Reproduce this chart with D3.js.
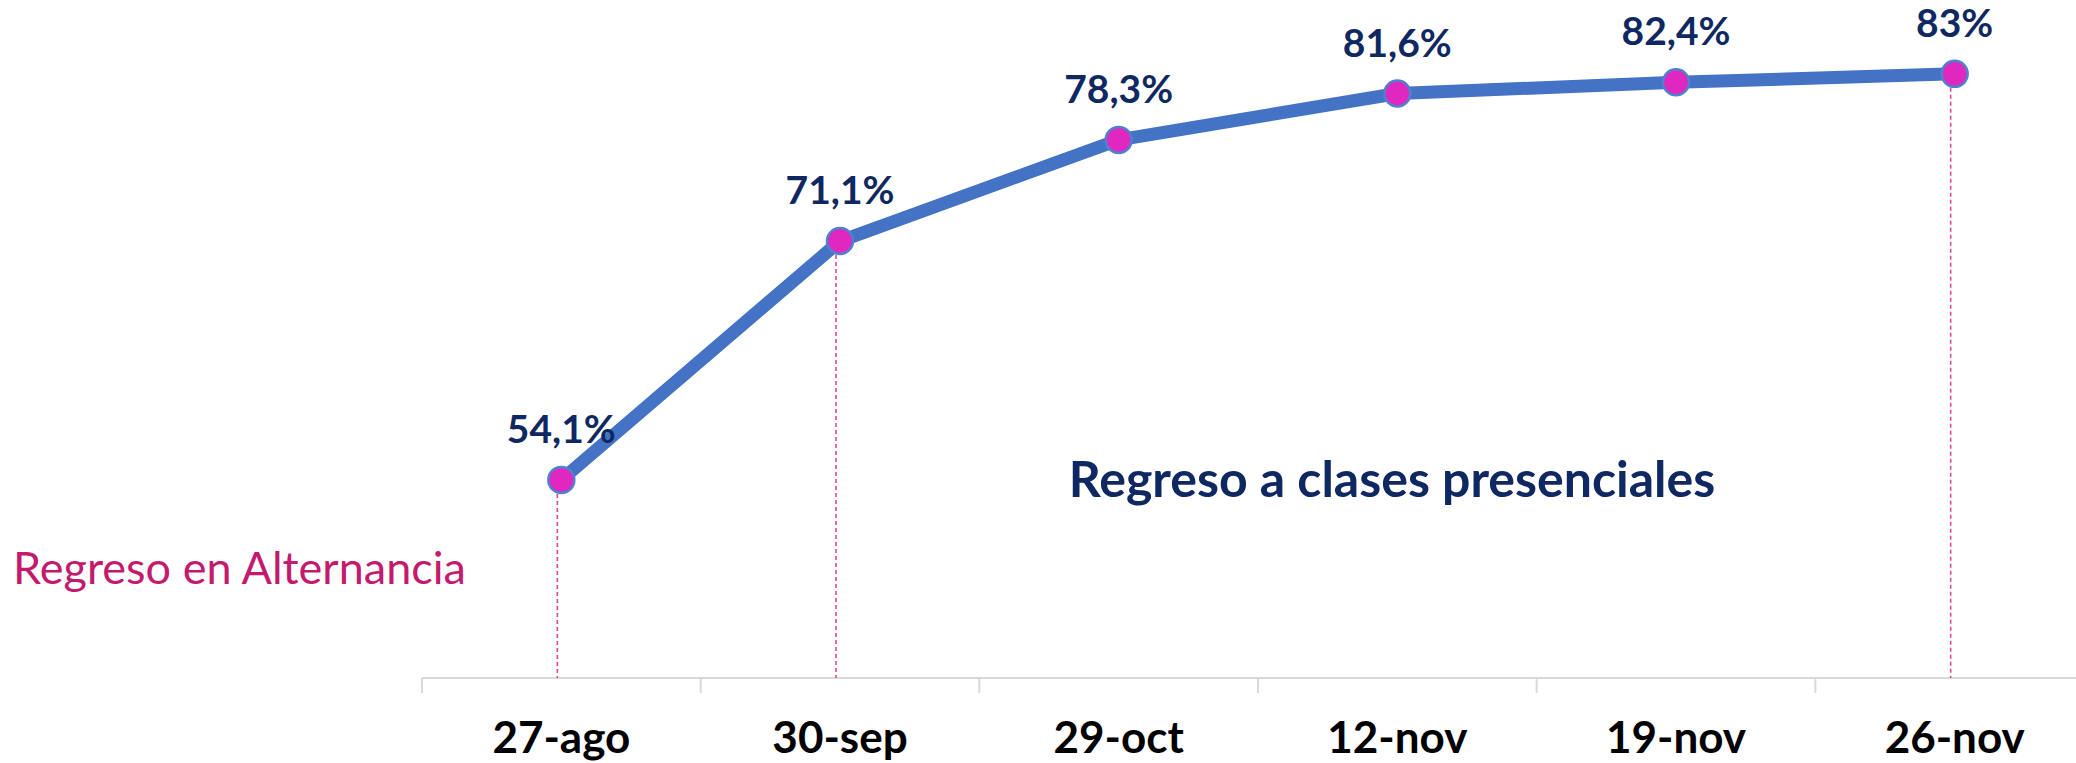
<!DOCTYPE html>
<html>
<head>
<meta charset="utf-8">
<script src="https://cdn.jsdelivr.net/npm/d3@7"></script>
<style>
  html, body { margin: 0; padding: 0; background: #fff; }
  svg { display: block; font-family: "Lato", "Open Sans", sans-serif; }
</style>
</head>
<body>
<div id="chart"></div>
<script>
// data
var dates = ["27-ago", "30-sep", "29-oct", "12-nov", "19-nov", "26-nov"];
var values = [54.1, 71.1, 78.3, 81.6, 82.4, 83];
var valueLabels = ["54,1%", "71,1%", "78,3%", "81,6%", "82,4%", "83%"];
var dropDates = ["27-ago", "30-sep", "26-nov"];
var yDomain = [40, 90];

var width = 2076, height = 763;
var axisY = 678;

var svg = d3.select("#chart").append("svg")
    .attr("width", width)
    .attr("height", height);

// scales
var x = d3.scaleBand().domain(dates).range([422, 2094]).padding(0);
var y = d3.scaleLinear().domain(yDomain).range([axisY, axisY - 50 * 14.05]);

var cx = function(d) { return x(d) + x.bandwidth() / 2; };

var data = dates.map(function(d, i) {
  return { date: d, value: values[i], label: valueLabels[i] };
});

// x axis: line + ticks at band edges
var axis = svg.append("g").attr("transform", "translate(0," + axisY + ")");
axis.append("line")
    .attr("x1", x.range()[0]).attr("x2", x.range()[1])
    .attr("y1", 0).attr("y2", 0)
    .attr("stroke", "#d9d9d9").attr("stroke-width", 2);
axis.selectAll(".tk")
    .data(dates.concat(["end"]))
    .enter().append("line")
    .attr("class", "tk")
    .attr("x1", function(d) { return d === "end" ? x.range()[1] : x(d); })
    .attr("x2", function(d) { return d === "end" ? x.range()[1] : x(d); })
    .attr("y1", 0).attr("y2", 15)
    .attr("stroke", "#d9d9d9").attr("stroke-width", 2);

var labels = svg.append("g")
    .attr("transform", "translate(0," + axisY + ")")
    .call(d3.axisBottom(x).tickSize(0).tickPadding(0));
labels.select(".domain").remove();
labels.selectAll("text")
    .attr("y", 75).attr("dy", 0)
    .style("font-family", "Lato, 'Open Sans', sans-serif")
    .style("font-size", "44px")
    .style("font-weight", "bold")
    .attr("fill", "#000");

// pink dashed drop lines
svg.selectAll(".drop")
    .data(data.filter(function(d) { return dropDates.indexOf(d.date) >= 0; }))
    .enter().append("line")
    .attr("class", "drop")
    .attr("x1", function(d) { return cx(d.date) - 4; })
    .attr("x2", function(d) { return cx(d.date) - 4; })
    .attr("y1", function(d) { return y(d.value) + 14; })
    .attr("y2", axisY)
    .attr("stroke", "#d94a94")
    .attr("stroke-width", 1.6)
    .attr("stroke-dasharray", "4,3");

// the line
var line = d3.line()
    .x(function(d) { return cx(d.date); })
    .y(function(d) { return y(d.value); });

svg.append("path")
    .datum(data)
    .attr("d", line)
    .attr("fill", "none")
    .attr("stroke", "#4472c4")
    .attr("stroke-width", 13)
    .attr("stroke-linejoin", "round");

// markers
svg.selectAll(".dot")
    .data(data)
    .enter().append("circle")
    .attr("class", "dot")
    .attr("cx", function(d) { return cx(d.date); })
    .attr("cy", function(d) { return y(d.value); })
    .attr("r", 13)
    .attr("fill", "#e027bf")
    .attr("stroke", "#4f81d0")
    .attr("stroke-width", 2.5);

// value labels
svg.selectAll(".val")
    .data(data)
    .enter().append("text")
    .attr("class", "val")
    .attr("x", function(d) { return cx(d.date); })
    .attr("y", function(d) { return y(d.value) - 37; })
    .attr("text-anchor", "middle")
    .style("font-size", "39px")
    .style("font-weight", "bold")
    .attr("fill", "#0f2862")
    .text(function(d) { return d.label; });

// annotations
svg.append("text")
    .attr("x", 13).attr("y", 584)
    .style("font-size", "45px")
    .attr("fill", "#c41a6e")
    .text("Regreso en Alternancia");

svg.append("text")
    .attr("x", 1392).attr("y", 497)
    .attr("text-anchor", "middle")
    .style("font-size", "50px")
    .style("font-weight", "bold")
    .attr("fill", "#0f2862")
    .text("Regreso a clases presenciales");
</script>
</body>
</html>
